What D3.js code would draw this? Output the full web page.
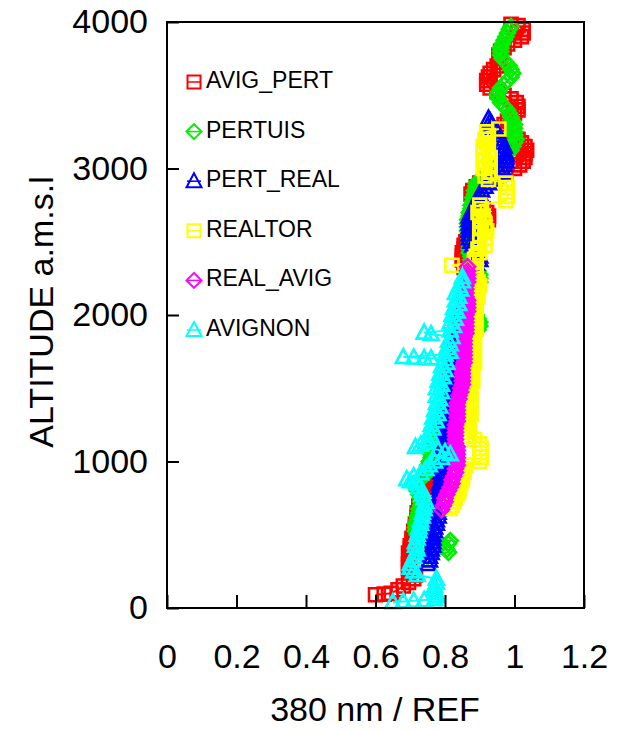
<!DOCTYPE html>
<html>
<head>
<meta charset="utf-8">
<script src="https://cdn.jsdelivr.net/npm/d3@7"></script>
<style>
  body { margin: 0; background: #fff; }
  svg { display: block; font-family: "Liberation Sans", Arial, sans-serif; }
</style>
</head>
<body>
<div id="chart"></div>
<script>
'use strict'

// profiles of the 380 nm / REF ratio, pairs of [altitude m a.s.l., ratio]
const avigPert = [[90,0.60],[95,0.625],[100,0.645],[125,0.665],[150,0.68],[175,0.695],[200,0.71],[225,0.715],[250,0.70],[275,0.695],[300,0.695],[325,0.70],[350,0.70],[375,0.695],[400,0.70],[425,0.70],[450,0.705],[475,0.705],[500,0.71],[525,0.71],[550,0.715],[575,0.715],[600,0.72],[625,0.72],[650,0.72],[675,0.725],[700,0.725],[725,0.73],[750,0.73],[775,0.735],[800,0.735],[825,0.74],[850,0.74],[875,0.745],[900,0.745],[925,0.75],[950,0.755],[975,0.76],[1000,0.765],[1025,0.77],[1050,0.775],[1075,0.775],[1100,0.78],[1125,0.78],[1150,0.785],[1175,0.785],[1200,0.79],[1225,0.79],[1250,0.79],[1275,0.795],[1300,0.795],[1325,0.80],[1350,0.80],[1375,0.80],[1400,0.80],[1425,0.805],[1450,0.805],[1475,0.81],[1500,0.81],[1525,0.81],[1550,0.815],[1575,0.815],[1600,0.815],[1625,0.82],[1650,0.82],[1675,0.82],[1700,0.82],[1725,0.825],[1750,0.825],[1775,0.83],[1800,0.83],[1825,0.835],[1850,0.835],[1875,0.84],[1900,0.84],[1925,0.845],[1950,0.845],[1975,0.85],[2000,0.85],[2025,0.85],[2050,0.85],[2075,0.855],[2100,0.855],[2125,0.855],[2150,0.855],[2175,0.86],[2200,0.86],[2225,0.86],[2250,0.86],[2275,0.86],[2300,0.86],[2325,0.855],[2350,0.855],[2375,0.85],[2400,0.85],[2425,0.85],[2450,0.855],[2475,0.855],[2500,0.86],[2525,0.865],[2550,0.87],[2575,0.88],[2600,0.89],[2625,0.91],[2650,0.925],[2675,0.925],[2700,0.92],[2725,0.91],[2750,0.90],[2775,0.89],[2800,0.88],[2825,0.875],[2850,0.88],[2875,0.89],[2900,0.90],[2925,0.925],[2950,0.95],[2975,0.975],[3000,1.0],[3025,1.015],[3050,1.025],[3075,1.03],[3100,1.03],[3125,1.035],[3150,1.03],[3175,1.02],[3200,1.01],[3225,0.995],[3250,0.98],[3275,0.97],[3300,0.97],[3325,0.98],[3350,0.99],[3375,1.0],[3400,1.01],[3425,1.01],[3450,1.005],[3475,0.99],[3500,0.97],[3525,0.95],[3550,0.93],[3575,0.92],[3600,0.92],[3625,0.925],[3650,0.93],[3675,0.94],[3700,0.95],[3725,0.955],[3750,0.96],[3775,0.955],[3800,0.96],[3825,0.97],[3850,0.98],[3875,1.0],[3900,1.02],[3925,1.025],[3950,1.025],[3975,1.01],[3985,0.99]]

const pertuis = [[350,0.75],[380,0.81],[400,0.805],[420,0.74],[440,0.81],[460,0.815],[480,0.73],[500,0.72],[525,0.715],[550,0.715],[575,0.715],[600,0.72],[625,0.72],[650,0.725],[675,0.725],[700,0.73],[725,0.73],[750,0.73],[775,0.725],[800,0.72],[825,0.715],[850,0.71],[875,0.725],[900,0.74],[925,0.745],[950,0.75],[975,0.75],[1000,0.755],[1025,0.76],[1050,0.76],[1075,0.765],[1100,0.77],[1125,0.77],[1150,0.775],[1175,0.775],[1200,0.78],[1225,0.78],[1250,0.785],[1275,0.785],[1300,0.79],[1325,0.79],[1350,0.795],[1375,0.795],[1400,0.80],[1425,0.80],[1450,0.805],[1475,0.805],[1500,0.81],[1525,0.81],[1550,0.815],[1575,0.815],[1600,0.82],[1625,0.82],[1650,0.825],[1675,0.825],[1700,0.83],[1725,0.83],[1750,0.835],[1775,0.84],[1800,0.845],[1825,0.85],[1850,0.86],[1875,0.875],[1900,0.895],[1925,0.90],[1950,0.90],[1975,0.895],[2000,0.89],[2025,0.88],[2050,0.87],[2075,0.87],[2100,0.87],[2125,0.87],[2150,0.875],[2175,0.885],[2200,0.895],[2225,0.90],[2250,0.90],[2275,0.90],[2300,0.895],[2325,0.885],[2350,0.88],[2375,0.875],[2400,0.875],[2425,0.87],[2450,0.87],[2475,0.87],[2500,0.87],[2525,0.87],[2550,0.87],[2575,0.865],[2600,0.865],[2625,0.865],[2650,0.865],[2675,0.87],[2700,0.87],[2725,0.875],[2750,0.875],[2775,0.88],[2800,0.88],[2825,0.885],[2850,0.885],[2875,0.89],[2900,0.89],[2925,0.90],[2950,0.91],[2975,0.925],[3000,0.94],[3025,0.95],[3050,0.96],[3075,0.97],[3100,0.98],[3125,0.99],[3150,0.995],[3175,1.0],[3200,1.005],[3225,1.0],[3250,1.0],[3275,1.0],[3300,1.0],[3325,0.995],[3350,0.99],[3375,0.985],[3400,0.98],[3425,0.97],[3450,0.96],[3475,0.955],[3500,0.95],[3525,0.955],[3550,0.96],[3575,0.97],[3600,0.98],[3625,0.99],[3650,0.995],[3675,0.99],[3700,0.985],[3725,0.975],[3750,0.965],[3775,0.96],[3800,0.96],[3825,0.96],[3850,0.965],[3875,0.97],[3900,0.975],[3925,0.98],[3950,0.985],[3970,0.99]]

const pertReal = [[300,0.75],[325,0.755],[350,0.755],[375,0.76],[400,0.76],[425,0.765],[450,0.765],[475,0.765],[500,0.765],[525,0.77],[550,0.77],[575,0.775],[600,0.775],[625,0.78],[650,0.78],[675,0.78],[700,0.78],[725,0.78],[750,0.78],[775,0.785],[800,0.785],[825,0.785],[850,0.785],[875,0.79],[900,0.79],[925,0.79],[950,0.79],[975,0.79],[1000,0.79],[1025,0.795],[1050,0.795],[1075,0.79],[1100,0.79],[1125,0.795],[1150,0.795],[1175,0.80],[1200,0.80],[1225,0.80],[1250,0.80],[1275,0.80],[1300,0.80],[1325,0.805],[1350,0.805],[1375,0.805],[1400,0.805],[1425,0.81],[1450,0.81],[1475,0.81],[1500,0.81],[1525,0.815],[1550,0.815],[1575,0.815],[1600,0.815],[1625,0.82],[1650,0.82],[1675,0.815],[1700,0.815],[1725,0.82],[1750,0.82],[1775,0.825],[1800,0.825],[1825,0.83],[1850,0.83],[1875,0.835],[1900,0.835],[1925,0.84],[1950,0.84],[1975,0.845],[2000,0.845],[2025,0.85],[2050,0.85],[2075,0.855],[2100,0.855],[2125,0.86],[2150,0.86],[2175,0.865],[2200,0.865],[2225,0.87],[2250,0.87],[2275,0.875],[2300,0.875],[2325,0.88],[2350,0.89],[2375,0.90],[2400,0.90],[2425,0.895],[2450,0.89],[2475,0.88],[2500,0.875],[2525,0.87],[2550,0.87],[2575,0.87],[2600,0.87],[2625,0.87],[2650,0.87],[2675,0.87],[2700,0.875],[2725,0.88],[2750,0.885],[2775,0.89],[2800,0.895],[2825,0.90],[2850,0.905],[2875,0.915],[2900,0.925],[2925,0.94],[2950,0.95],[2975,0.96],[3000,0.965],[3025,0.97],[3050,0.975],[3075,0.975],[3100,0.975],[3125,0.97],[3150,0.97],[3175,0.965],[3200,0.96],[3225,0.955],[3250,0.95],[3275,0.94],[3300,0.935],[3320,0.93],[3340,0.925]]

const realtor = [[680,0.815],[700,0.82],[725,0.825],[750,0.83],[775,0.835],[800,0.84],[825,0.84],[850,0.845],[875,0.85],[900,0.85],[925,0.855],[950,0.855],[975,0.86],[1000,0.90],[1030,0.905],[1060,0.90],[1090,0.905],[1120,0.90],[1150,0.885],[1175,0.87],[1200,0.865],[1225,0.865],[1250,0.865],[1275,0.87],[1300,0.87],[1325,0.875],[1350,0.87],[1375,0.865],[1400,0.87],[1425,0.875],[1450,0.87],[1475,0.865],[1500,0.87],[1525,0.875],[1550,0.88],[1575,0.875],[1600,0.87],[1625,0.875],[1650,0.88],[1675,0.885],[1700,0.88],[1725,0.875],[1750,0.88],[1775,0.885],[1800,0.88],[1825,0.875],[1850,0.88],[1875,0.885],[1900,0.89],[1925,0.885],[1950,0.88],[1975,0.885],[2000,0.89],[2025,0.885],[2050,0.88],[2075,0.885],[2100,0.89],[2125,0.895],[2150,0.89],[2175,0.895],[2200,0.90],[2225,0.895],[2250,0.89],[2275,0.885],[2300,0.89],[2320,0.89],[2340,0.82],[2360,0.885],[2380,0.885],[2400,0.89],[2425,0.90],[2450,0.895],[2475,0.915],[2500,0.90],[2525,0.915],[2550,0.90],[2575,0.92],[2600,0.905],[2625,0.915],[2650,0.90],[2675,0.91],[2700,0.895],[2725,0.905],[2750,0.90],[2780,0.975],[2810,0.98],[2840,0.975],[2870,0.98],[2900,0.975],[2925,0.925],[2950,0.915],[2975,0.93],[3000,0.91],[3025,0.925],[3050,0.915],[3075,0.93],[3100,0.91],[3125,0.925],[3150,0.91],[3175,0.92],[3200,0.915],[3225,0.925],[3250,0.92],[3270,0.955]]

const realAvig = [[670,0.79],[700,0.795],[725,0.80],[750,0.80],[775,0.805],[800,0.81],[825,0.815],[850,0.82],[875,0.82],[900,0.825],[925,0.83],[950,0.83],[975,0.835],[1000,0.835],[1025,0.835],[1050,0.835],[1075,0.835],[1100,0.835],[1125,0.83],[1150,0.83],[1175,0.83],[1200,0.83],[1225,0.83],[1250,0.83],[1275,0.835],[1300,0.835],[1325,0.835],[1350,0.835],[1375,0.835],[1400,0.835],[1425,0.84],[1450,0.84],[1475,0.845],[1500,0.845],[1525,0.85],[1550,0.85],[1575,0.85],[1600,0.85],[1625,0.85],[1650,0.85],[1675,0.855],[1700,0.855],[1725,0.855],[1750,0.855],[1775,0.855],[1800,0.855],[1825,0.855],[1850,0.855],[1875,0.86],[1900,0.86],[1925,0.86],[1950,0.86],[1975,0.86],[2000,0.86],[2025,0.865],[2050,0.865],[2075,0.865],[2100,0.865],[2125,0.86],[2150,0.86],[2175,0.86],[2200,0.86],[2225,0.865],[2250,0.865],[2275,0.865],[2300,0.865],[2330,0.865]]

const avignon = [[40,0.65],[45,0.68],[50,0.71],[55,0.74],[60,0.77],[80,0.775],[100,0.775],[125,0.77],[150,0.77],[175,0.775],[200,0.775],[225,0.72],[250,0.71],[275,0.70],[300,0.70],[325,0.705],[350,0.71],[375,0.715],[400,0.72],[425,0.715],[450,0.715],[475,0.72],[500,0.72],[525,0.725],[550,0.725],[575,0.73],[600,0.73],[625,0.735],[650,0.735],[675,0.74],[700,0.74],[725,0.745],[750,0.74],[775,0.735],[800,0.735],[825,0.725],[850,0.72],[865,0.70],[880,0.69],[900,0.71],[920,0.73],[950,0.745],[975,0.755],[1000,0.77],[1025,0.79],[1050,0.815],[1065,0.80],[1080,0.78],[1100,0.715],[1115,0.73],[1130,0.745],[1150,0.75],[1175,0.76],[1200,0.755],[1225,0.765],[1250,0.76],[1275,0.775],[1300,0.765],[1325,0.78],[1350,0.77],[1375,0.785],[1400,0.775],[1425,0.785],[1450,0.775],[1475,0.79],[1500,0.775],[1525,0.79],[1550,0.78],[1575,0.795],[1600,0.785],[1625,0.80],[1650,0.79],[1675,0.805],[1700,0.80],[1704,0.76],[1707,0.74],[1710,0.71],[1713,0.68],[1730,0.80],[1750,0.815],[1775,0.805],[1800,0.815],[1825,0.81],[1850,0.82],[1870,0.76],[1880,0.74],[1895,0.815],[1925,0.825],[1950,0.815],[1975,0.83],[2000,0.82],[2025,0.835],[2050,0.825],[2075,0.84],[2100,0.83],[2125,0.84],[2150,0.83],[2175,0.845],[2200,0.84],[2230,0.85],[2260,0.85]]

const seriesNames = ['AVIG_PERT', 'PERTUIS', 'PERT_REAL', 'REALTOR', 'REAL_AVIG', 'AVIGNON']
const seriesData = [avigPert, pertuis, pertReal, realtor, realAvig, avignon]
const xTicks = [0, 0.2, 0.4, 0.6, 0.8, 1, 1.2]
const yTicks = [0, 1000, 2000, 3000, 4000]

const colors = ['#ff0000', '#00ee00', '#0000ff', '#ffff00', '#ff00ff', '#00ffff']
const shapes = ['square', 'diamond', 'triangle', 'square', 'diamond', 'triangle']

const markerPath = {
  square: 'M-6.5,-6.5H6.5V6.5H-6.5Z',
  diamond: 'M0,-7.5L7.5,0L0,7.5L-7.5,0Z',
  triangle: 'M0,-8L7.5,6L-7.5,6Z'
}

const width = 626
const height = 731
const plot = { left: 167, right: 584, top: 22, bottom: 608 }

const svg = d3.select('#chart').append('svg')
  .attr('width', width)
  .attr('height', height)

const x = d3.scaleLinear().domain([0, 1.2]).range([plot.left, plot.right])
const y = d3.scaleLinear().domain([0, 4000]).range([plot.bottom, plot.top])

// profiles first, frame and ticks on top
const line = d3.line().x(d => x(d[1])).y(d => y(d[0]))

seriesData.forEach(function (data, i) {
  const g = svg.append('g')
  g.append('path')
    .datum(data)
    .attr('d', line)
    .attr('fill', 'none')
    .attr('stroke', colors[i])
    .attr('stroke-width', 2)
  g.selectAll('path.mark')
    .data(data)
    .enter()
    .append('path')
      .attr('class', 'mark')
      .attr('transform', d => `translate(${x(d[1])},${y(d[0])})`)
      .attr('d', markerPath[shapes[i]])
      .attr('fill', 'none')
      .attr('stroke', colors[i])
      .attr('stroke-width', 2.6)
})

svg.append('rect')
  .attr('x', plot.left)
  .attr('y', plot.top)
  .attr('width', plot.right - plot.left)
  .attr('height', plot.bottom - plot.top)
  .attr('fill', 'none')
  .attr('stroke', '#000')
  .attr('stroke-width', 2)

const xAxis = svg.append('g')
  .attr('transform', `translate(0,${plot.bottom})`)
  .call(d3.axisBottom(x).tickValues(xTicks).tickSizeInner(-13).tickSizeOuter(0).tickPadding(36)
    .tickFormat(d3.format('')))
xAxis.select('.domain').remove()

const yAxis = svg.append('g')
  .attr('transform', `translate(${plot.left},0)`)
  .call(d3.axisLeft(y).tickValues(yTicks).tickSizeInner(-12).tickSizeOuter(0).tickPadding(19)
    .tickFormat(d3.format('')))
yAxis.select('.domain').remove()

svg.selectAll('.tick line').attr('stroke', '#000').attr('stroke-width', 2)
svg.selectAll('.tick text')
  .attr('fill', '#000')
  .style('font-family', '"Liberation Sans", Arial, sans-serif')
  .style('font-size', '34px')

svg.append('text')
  .attr('x', 375)
  .attr('y', 721)
  .attr('text-anchor', 'middle')
  .style('font-size', '34px')
  .text('380 nm / REF')

svg.append('text')
  .attr('transform', 'translate(53,312) rotate(-90)')
  .attr('text-anchor', 'middle')
  .style('font-size', '34px')
  .text('ALTITUDE a.m.s.l')

// legend: marker with a short line through it, then the name
const legend = svg.selectAll('.legend')
  .data(seriesNames)
  .enter()
  .append('g')
    .attr('class', 'legend')
    .attr('transform', (d, i) => `translate(194,${88 + i * 49.6})`)

legend.append('line')
  .attr('x1', -7).attr('x2', 7)
  .attr('y1', -6).attr('y2', -6)
  .attr('stroke', (d, i) => colors[i])
  .attr('stroke-width', 1.5)

legend.append('path')
  .attr('transform', 'translate(0,-6)')
  .attr('d', (d, i) => markerPath[shapes[i]])
  .attr('fill', 'none')
  .attr('stroke', (d, i) => colors[i])
  .attr('stroke-width', 2)

legend.append('text')
  .attr('x', 12)
  .attr('y', 0)
  .style('font-size', '23px')
  .text(d => d)
</script>
</body>
</html>
